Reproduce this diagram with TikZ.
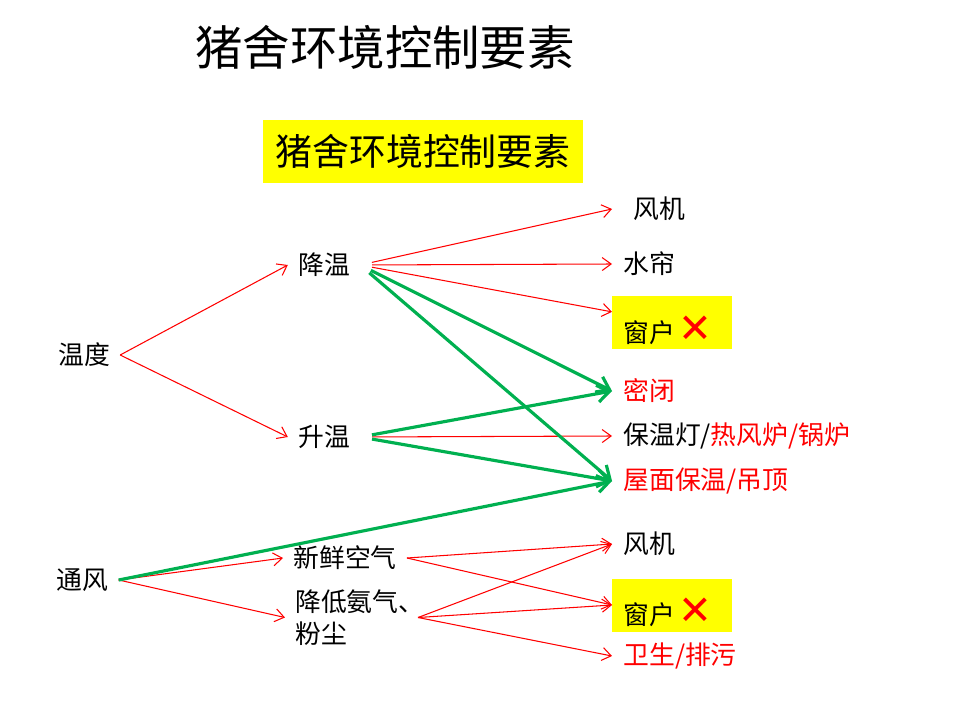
\documentclass[tikz,border=0pt]{standalone}
\usepackage{fontspec}
\setmainfont{Noto Sans CJK SC}
\newfontfamily\xfont{DejaVu Sans}
\usetikzlibrary{arrows.meta}
\definecolor{pptRed}{RGB}{255,0,0}
\definecolor{pptGreen}{RGB}{0,176,80}
\definecolor{pptYellow}{RGB}{255,255,0}
\newcommand{\nope}{{\xfont\fontsize{23}{23}\selectfont\textcolor{pptRed}{✕}}}
\tikzset{pigpanel/.style={
  x=0.02cm, y=-0.02cm,
  lab/.style={font=\fontsize{14.7}{18}\selectfont, inner xsep=0.2cm, inner ysep=2pt},
  dst/.style={lab, anchor=west, inner xsep=0.22cm},
  hot/.style={text=pptRed},
  rarr/.style={draw=pptRed, line width=0.6pt, -{Straight Barb[length=1.8mm,width=2.6mm]}},
  garr/.style={draw=pptGreen, line width=1.8pt, -{Straight Barb[length=2.4mm,width=3.4mm]}},
}}

\begin{document}
\begin{tikzpicture}[pigpanel,
  winbox/.style={dst, fill=pptYellow, text width=1.96cm, align=left, text height=0.86cm, text depth=0.08cm, inner ysep=0.06cm},
  headbox/.style={fill=pptYellow, minimum width=6.4cm, minimum height=1.26cm, font=\fontsize{21}{24}\selectfont},
  lift/.style={shorten <=0.24cm},
]
\useasboundingbox (0,0) rectangle (960,720);

% ---- titles ----
\node[font=\fontsize{27}{30}\selectfont] (title) at (385,47) {猪舍环境控制要素};
\node[headbox] (head) at (423,151.5) {猪舍环境控制要素};

% ---- left and middle columns ----
\node[lab] (temp)  at (84,355)    {温度};
\node[lab] (cool)  at (324,265)   {降温};
\node[lab] (heat)  at (324,437)   {升温};
\node[lab] (vent)  at (82.5,580)  {通风};
\node[lab] (fresh) at (345,558)   {新鲜空气};
\node[lab, align=left] (nh3) at (351.5,617.5) {降低氨气\makebox[0.35em][l]{、}\\粉尘};

% ---- right column ----
\node[dst, inner xsep=0.42cm] (fan1) at (612,209) {风机};
\node[dst] (pad)  at (612,264)   {水帘};
\node[winbox] (win1) at (612,322.5) {窗户\hspace{0.15em}\nope};
\node[dst, hot] (seal) at (612,391) {密闭};
\node[dst] (lamp) at (612,436)   {保温灯/\textcolor{pptRed}{热风炉/锅炉}};
\node[dst, hot] (roof) at (612,481) {屋面保温/吊顶};
\node[dst] (fan2) at (612,544)   {风机};
\node[winbox] (win2) at (612,605) {窗户\hspace{0.15em}\nope};
\node[dst, hot] (san) at (612,656) {卫生/排污};

% ---- temperature ----
\draw[rarr] (temp.east) -- (cool.west);
\draw[rarr] (temp.east) -- (heat.west);
\draw[rarr, lift] (cool.east) -- (fan1.west);
\draw[rarr, lift] (cool.east) -- (pad.west);
\draw[rarr, lift] (cool.east) -- (win1.170);
\draw[rarr, lift] (heat.east) -- (lamp.west);

% ---- ventilation ----
\draw[rarr] (vent.east) -- (fresh.west);
\draw[rarr] (vent.east) -- (nh3.west);
\draw[rarr] (fresh.east) -- (fan2.west);
\draw[rarr] (fresh.east) -- (win2.west);
\draw[rarr] (nh3.east) -- (fan2.west);
\draw[rarr] (nh3.east) -- (win2.west);
\draw[rarr] (nh3.east) -- (san.west);

% ---- shared measures (green) ----
\draw[garr, lift] (cool.east) -- (seal.west);
\draw[garr, lift] (cool.east) -- (roof.west);
\draw[garr, lift] (heat.east) -- (seal.west);
\draw[garr, lift] (heat.east) -- (roof.west);
\draw[garr] (vent.east) -- (roof.west);

\end{tikzpicture}
\end{document}
